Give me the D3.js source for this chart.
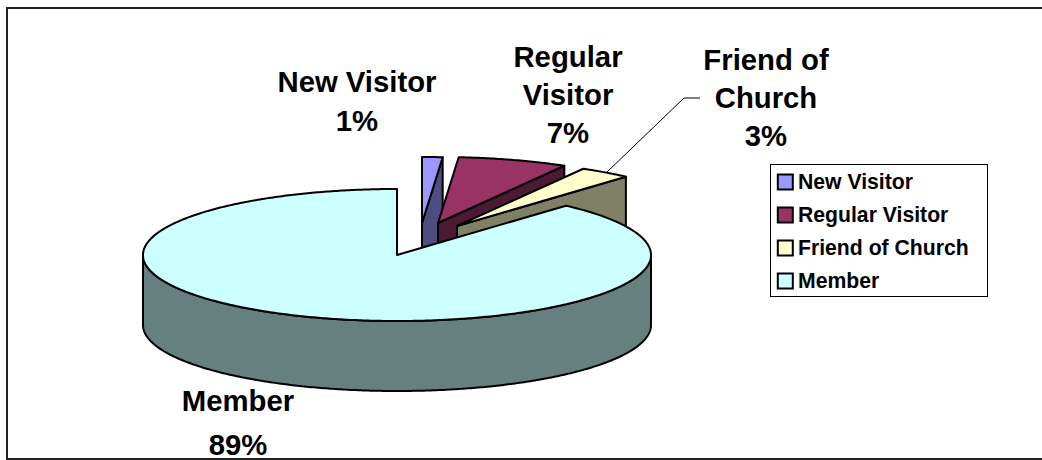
<!DOCTYPE html>
<html><head><meta charset="utf-8">
<script src="https://cdn.jsdelivr.net/npm/d3@7/dist/d3.min.js"></script>
<style>html,body{margin:0;padding:0;background:#fff}svg{display:block}</style>
</head><body><svg id="c" width="1042" height="460"></svg>
<script>
const categories = ["New Visitor", "Regular Visitor", "Friend of Church", "Member"];
const shares = [1.3, 7.0, 3.3, 88.6];
const topColors = ["#9999FF", "#993366", "#FFFFCC", "#CCFFFF"];
const sideColors = ["#4D4D80", "#4D1A33", "#808066", "#668080"];
const labelLines = [["New Visitor"], ["Regular", "Visitor"], ["Friend of", "Church"], ["Member"]];

const W = 1042, H = 460;
const svg = d3.select("#c").attr("viewBox", `0 0 ${W} ${H}`);
const FONT = "'Liberation Sans', Arial, sans-serif";

// Frame: open on the right, as in the source image
svg.append("path").attr("d", d3.line()([[W, 8], [7, 8], [7, 459], [W, 459]]))
  .attr("fill", "none").attr("stroke", "#222").attr("stroke-width", 2);

// Projected pie: unit disc -> screen ellipse
const cx = 397, cy = 255, rx = 254, ry = 66, depth = 70;
const sx = d3.scaleLinear().domain([-1, 1]).range([cx - rx, cx + rx]);
const sy = d3.scaleLinear().domain([-1, 1]).range([cy + ry, cy - ry]);
const explode = [[25, -32], [41, -32], [60, -29], [0, 0]];

const arcs = d3.pie().sort(null).value(d => d)(shares);
const pt = (a, o, dz = 0) => [sx(Math.sin(a)) + o[0], sy(Math.cos(a)) + o[1] + dz];
const arcPts = (a0, a1, o, dz = 0) => {
  const n = Math.max(2, Math.ceil(Math.abs(a1 - a0) / 0.01));
  return d3.range(n + 1).map(i => pt(a0 + (a1 - a0) * i / n, o, dz));
};
const line = d3.line();
const g = svg.append("g").attr("stroke", "#000").attr("stroke-linejoin", "round");

arcs.forEach((d, i) => {
  const o = explode[i];
  const apex = [cx + o[0], cy + o[1]];
  const slice = g.append("g");
  const side = p => slice.append("path").attr("d", line(p) + "Z").attr("fill", sideColors[i]).attr("stroke-width", 2);
  if (i < 3) {
    // cut wall on the trailing radius
    const e = pt(d.endAngle, o);
    side([apex, e, [e[0], e[1] + depth], [apex[0], apex[1] + depth]]);
  } else {
    // outer rim, visible front half
    const lo = Math.PI / 2, hi = 3 * Math.PI / 2;
    side(arcPts(lo, hi, o).concat(arcPts(hi, lo, o, depth)));
  }
  slice.append("path")
    .attr("d", line([apex].concat(arcPts(d.startAngle, d.endAngle, o))) + "Z")
    .attr("fill", topColors[i]).attr("stroke-width", 2);
});

// Leader line for the Friend of Church label
svg.append("path").attr("d", line([[607, 172], [684, 98], [700, 98]]))
  .attr("fill", "none").attr("stroke", "#000").attr("stroke-width", 1);

// Data labels
const labelAt = [[357, 92], [568, 67], [766, 69.5], [238, 411]];
const labelStep = [39, 38, 38, 44];
const pct = d3.format(".0f");
arcs.forEach((d, i) => {
  const t = svg.append("text").attr("text-anchor", "middle")
    .attr("font-family", FONT).attr("font-weight", "bold").attr("font-size", 29.3).attr("fill", "#000");
  labelLines[i].concat([pct(d.value) + "%"]).forEach((s, k) => {
    t.append("tspan").attr("x", labelAt[i][0]).attr("y", labelAt[i][1] + k * labelStep[i]).text(s);
  });
});

// Legend
const lg = svg.append("g");
lg.append("rect").attr("x", 770.5).attr("y", 164.5).attr("width", 217).attr("height", 132)
  .attr("fill", "#fff").attr("stroke", "#000").attr("stroke-width", 1);
const ly = d3.scalePoint().domain(categories).range([182, 281]);
categories.forEach((c, i) => {
  lg.append("rect").attr("x", 777.8).attr("y", ly(c) - 7.5).attr("width", 15).attr("height", 15)
    .attr("fill", topColors[i]).attr("stroke", "#000").attr("stroke-width", 2);
  lg.append("text").attr("x", 798).attr("y", ly(c) + 7)
    .attr("font-family", FONT).attr("font-weight", "bold").attr("font-size", 21.2).attr("fill", "#000").text(c);
});
</script></body></html>
